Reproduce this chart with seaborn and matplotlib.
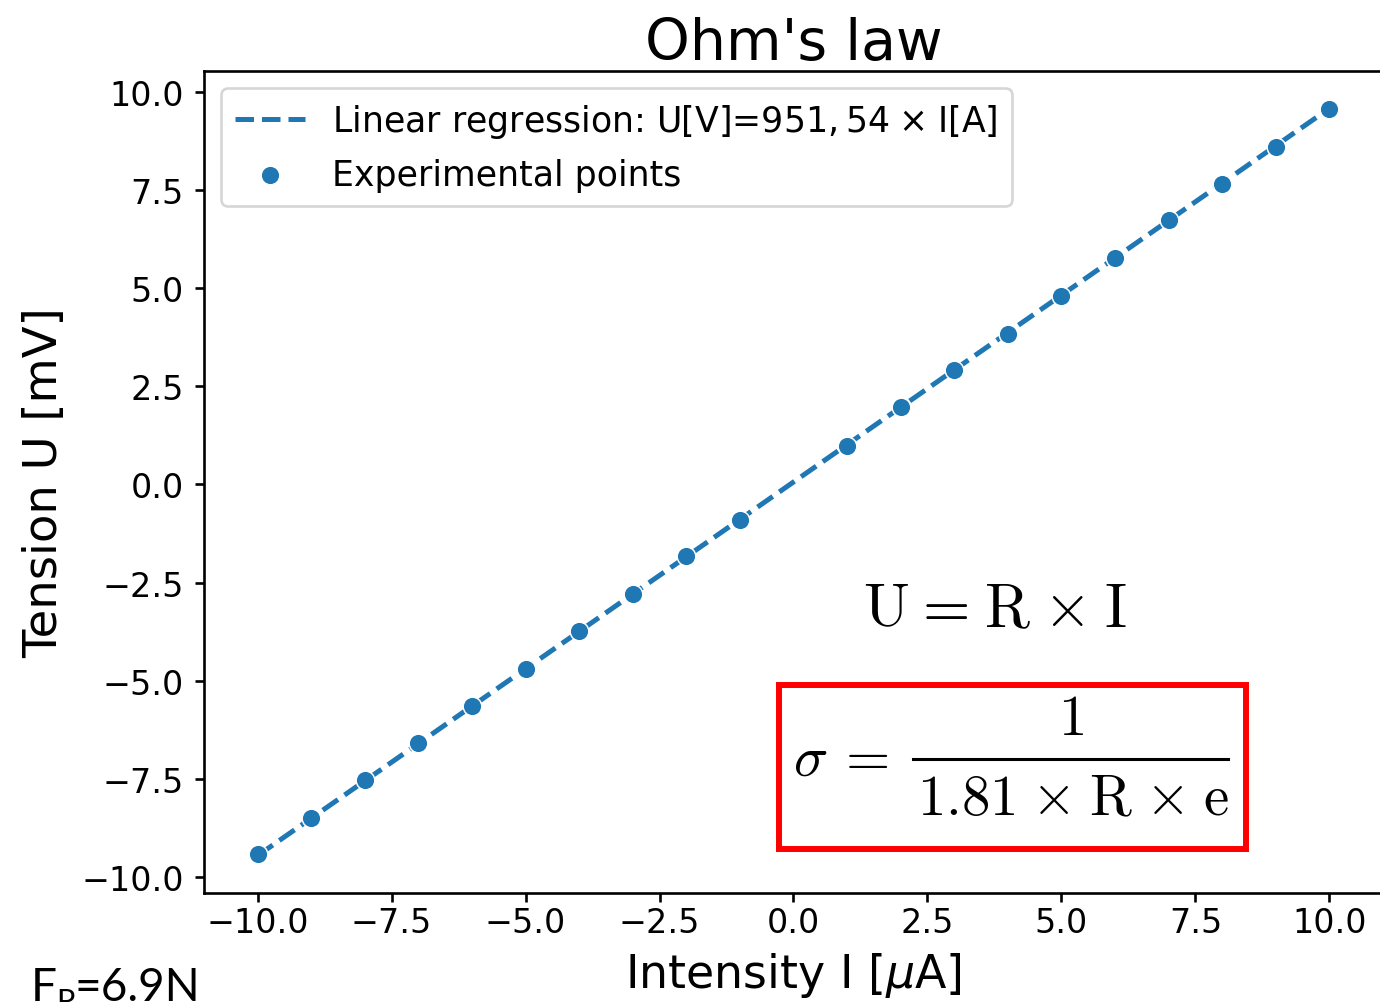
import numpy as np
import matplotlib
matplotlib.use("Agg")
import matplotlib.pyplot as plt
from matplotlib.patches import Rectangle
from matplotlib.lines import Line2D
import seaborn as sns

# Measured current (µA) and voltage (mV)
intensity_uA = [-10, -9, -8, -7, -6, -5, -4, -3, -2, -1,
                1, 2, 3, 4, 5, 6, 7, 8, 9, 10]
tension_mV = [-9.42, -8.50, -7.53, -6.58, -5.65, -4.69, -3.74, -2.78, -1.83, -0.90,
              0.99, 1.98, 2.91, 3.84, 4.81, 5.76, 6.73, 7.66, 8.60, 9.57]

# Fitted resistance (ohm) quoted in the legend
resistance_ohm = 951.54
fit_label = r"Linear regression: U[V]=$951,54\hspace{0.08}\times\hspace{0.08}$I[A]"
points_label = "Experimental points"
title = "Ohm's law"
xlabel = r"Intensity I [$\mu$A]"
ylabel = "Tension U [mV]"

W, H = 1380, 1003
fig = plt.figure(figsize=(W / 100, H / 100), dpi=100)
ax = fig.add_axes([204 / W, 1 - 894 / H, (1383 - 204) / W, (894 - 72) / H])

I = np.array(intensity_uA, dtype=float)
U = np.array(tension_mV, dtype=float)
slope = resistance_ohm * 1e-3          # mV per µA
intercept = U.mean() - slope * I.mean()
fit = slope * I + intercept

blue = "#1f77b4"
sns.lineplot(x=I, y=fit, ax=ax, color=blue, linestyle="--", linewidth=3.6,
             label=fit_label)
sns.scatterplot(x=I, y=U, ax=ax, color=blue, s=180, label=points_label, zorder=3)

ax.set_xticks(np.arange(-10, 10.1, 2.5))
ax.set_yticks(np.arange(-10, 10.1, 2.5))
ax.margins(0.05)

for side in ["left", "bottom", "top", "right"]:
    ax.spines[side].set_linewidth(1.9)
    ax.spines[side].set_color("black")
ax.tick_params(axis="both", labelsize=24, length=6.5, width=1.9, colors="black")
ax.tick_params(axis="x", pad=3)
ax.tick_params(axis="y", pad=8)

ax.set_title(title, fontsize=41, pad=7)
ax.set_xlabel(xlabel, fontsize=33, labelpad=8)
ax.set_ylabel(ylabel, fontsize=33.5, labelpad=10)

leg = ax.legend(loc="upper left", fontsize=25, frameon=True)
leg.get_frame().set_linewidth(1.9)


def fx(px):
    return px / W


def fy(py):
    return 1 - py / H


def cm_text(x, y, tex, size, ha="center"):
    fig.text(fx(x), fy(y), tex, fontsize=size, ha=ha, va="baseline",
             math_fontfamily="cm")


gap = r"\hspace{0.06}"
# U = R x I
cm_text(995, 627, r"$\mathrm{U}" + gap + "=" + gap + r"\mathrm{R}" + gap
        + r"\times" + gap + r"\mathrm{I}$", 44)

# sigma = 1 / (1.81 x R x e)
cm_text(793, 776, r"$\sigma\hspace{0.2}=$", 41, ha="left")
cm_text(1071, 735, r"$\mathrm{1}$", 41)
gap2 = r"\hspace{0.075}"
cm_text(1073, 815, r"$\mathrm{1.81}" + gap2 + r"\times" + gap2 + r"\mathrm{R}"
        + gap2 + r"\times" + gap2 + r"\mathrm{e}$", 41)
fig.add_artist(Line2D([fx(913), fx(1228)], [fy(760), fy(760)],
                      transform=fig.transFigure, color="black", linewidth=2.2))

fig.add_artist(Rectangle((fx(779), fy(850)), (1246 - 779) / W, (850 - 686) / H,
                         transform=fig.transFigure, fill=False,
                         edgecolor="red", linewidth=4.3))

# Pulling force note
fig.text(fx(31), fy(1001), "F", fontsize=33, family="Lato", ha="left", va="baseline")
fig.text(fx(56), fy(1011), "P", fontsize=22, family="Lato", ha="left", va="baseline")
fig.text(fx(74), fy(1001), "=6.9N", fontsize=33, family="Lato", ha="left", va="baseline")

fig.savefig("out.png", dpi=100)
